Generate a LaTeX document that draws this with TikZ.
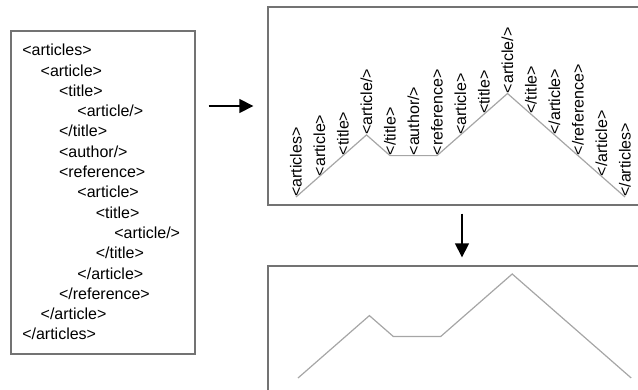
\documentclass[tikz,border=0pt]{standalone}
\usepackage{fontspec}
\setmainfont{Liberation Sans}
\usetikzlibrary{arrows.meta}
\definecolor{framegray}{gray}{0.45}
\definecolor{curvegray}{gray}{0.65}

\begin{document}
\begin{tikzpicture}[x=0.75pt,y=-0.75pt,>={Triangle[length=10.5pt,width=10.5pt]},
    font=\fontsize{12}{14}\selectfont,
    panel/.style={draw=framegray,line width=1pt,inner sep=0pt},
    line/.style={anchor=west,inner sep=0pt},
    tag/.style={rotate=90,anchor=west,inner sep=0pt},
    curve/.style={draw=curvegray,line width=0.9pt,line join=miter},
    flow/.style={->,black,line width=1pt}]
  \clip (0,0) rectangle (638,389);
  % panels
  \node[panel,minimum width=138pt,minimum height=242.25pt] (xml) at (103,192.5) {};
  \node[panel,minimum width=291pt,minimum height=148.5pt] (tree) at (462,106) {};
  \node[panel,minimum width=291pt,minimum height=100.5pt] (plot) at (462,333) {};
  % document text
  \node[line] (l0) at (22.0,50.0) {<articles>};
  \node[line] (l1) at (40.4,70.3) {<article>};
  \node[line] (l2) at (58.8,90.6) {<title>};
  \node[line] (l3) at (77.2,110.9) {<article/>};
  \node[line] (l4) at (58.8,131.2) {</title>};
  \node[line] (l5) at (58.8,151.5) {<author/>};
  \node[line] (l6) at (58.8,171.8) {<reference>};
  \node[line] (l7) at (77.2,192.1) {<article>};
  \node[line] (l8) at (95.6,212.4) {<title>};
  \node[line] (l9) at (114.0,232.7) {<article/>};
  \node[line] (l10) at (95.6,253.0) {</title>};
  \node[line] (l11) at (77.2,273.3) {</article>};
  \node[line] (l12) at (58.8,293.6) {</reference>};
  \node[line] (l13) at (40.4,313.9) {</article>};
  \node[line] (l14) at (22.0,334.2) {</articles>};
  % tag profile
  \node[tag] (a0) at (296.0,197.0) {<articles>};
  \node[tag] (a1) at (319.5,176.3) {<article>};
  \node[tag] (a2) at (343.0,155.6) {<title>};
  \node[tag] (a3) at (366.5,134.9) {<article/>};
  \node[tag] (a4) at (390.0,155.6) {</title>};
  \node[tag] (a5) at (413.5,155.6) {<author/>};
  \node[tag] (a6) at (437.0,155.6) {<reference>};
  \node[tag] (a7) at (460.5,134.9) {<article>};
  \node[tag] (a8) at (484.0,114.2) {<title>};
  \node[tag] (a9) at (507.5,93.5) {<article/>};
  \node[tag] (a10) at (531.0,114.2) {</title>};
  \node[tag] (a11) at (554.5,134.9) {</article>};
  \node[tag] (a12) at (578.0,155.6) {</reference>};
  \node[tag] (a13) at (601.5,176.3) {</article>};
  \node[tag] (a14) at (625.0,197.0) {</articles>};
  \draw[curve] (a0.west) -- (a1.west) -- (a2.west) -- (a3.west) -- (a4.west)
    -- (a5.west) -- (a6.west) -- (a7.west) -- (a8.west) -- (a9.west)
    -- (a10.west) -- (a11.west) -- (a12.west) -- (a13.west) -- (a14.west);
  % plain profile
  \coordinate (b0) at (298.0,378.0);
  \coordinate (b3) at (369.4,315.6);
  \coordinate (b4) at (393.2,336.4);
  \coordinate (b6) at (440.8,336.4);
  \coordinate (b9) at (512.2,274.0);
  \coordinate (b14) at (631.2,378.0);
  \draw[curve] (b0) -- (b3) -- (b4) -- (b6) -- (b9) -- (b14);
  % arrows
  \draw[flow,shorten <=9.75pt,shorten >=10.5pt] (xml.east |- tree.west) -- (tree.west);
  \draw[flow,shorten <=6pt,shorten >=6pt] (tree.south) -- (plot.north);
\end{tikzpicture}
\end{document}
